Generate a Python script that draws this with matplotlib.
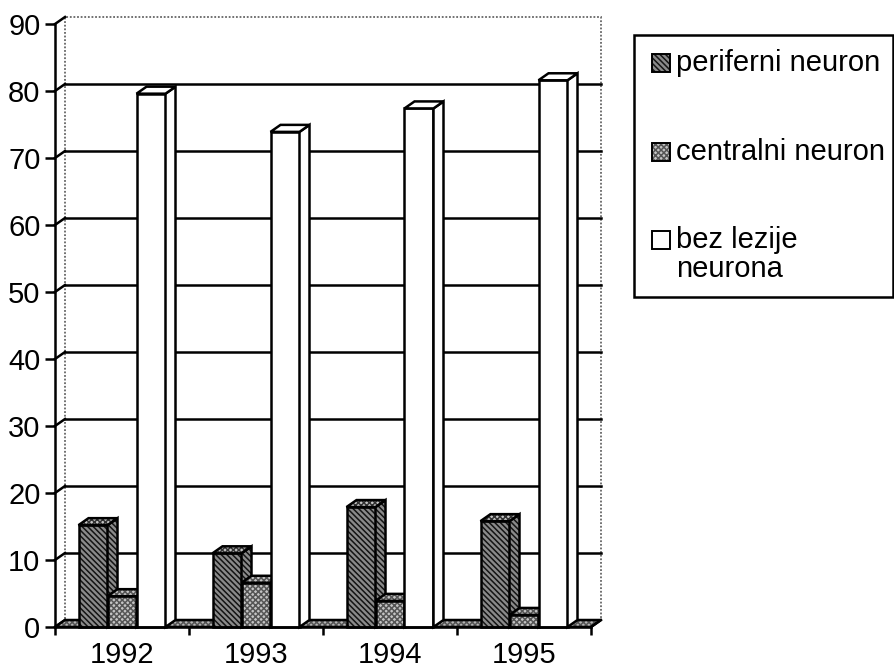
import matplotlib
matplotlib.use("Agg")
import matplotlib.pyplot as plt
from matplotlib.patches import Polygon, Rectangle

plt.rcParams['font.family'] = ['Liberation Sans', 'DejaVu Sans']
plt.rcParams['hatch.linewidth'] = 1.1

# ---- data ----
years = ['1992', '1993', '1994', '1995']
series_names = ['periferni neuron', 'centralni neuron', 'bez lezije\nneurona']
periferni = [15.2, 11.0, 17.9, 15.8]
centralni = [4.6, 6.6, 3.9, 1.8]
bez_lezije = [79.6, 73.9, 77.4, 81.6]
yticks = list(range(0, 91, 10))

W, H = 895, 670
FS = 21
fig = plt.figure(figsize=(W / 100, H / 100), dpi=100)
ax_l, ax_b, ax_w, ax_h = 55, 43, 536, 603
ax = fig.add_axes([ax_l / W, ax_b / H, ax_w / W, ax_h / H])
ax.set_xlim(-0.5, len(years) - 0.5)
ax.set_ylim(0, 90)
ax.patch.set_visible(False)

# depth offset (10 px right, 7 px up) in data units
DX = 10 / ax_w * len(years)
DY = 7 / ax_h * 90
X0, X1 = -0.5, len(years) - 0.5

LW = 1.8
PERI_FACE, PERI_HATCH = '#8a8a8a', '#141414'
CEN_FACE, CEN_HATCH = '#c4c4c4', '#555555'
PERI_H = '\\\\\\\\\\\\'
CEN_H = 'xxxxxx'


def hatched(xy, face, hatch, hcolor, z):
    ax.add_patch(Polygon(xy, closed=True, facecolor=face, edgecolor=hcolor, hatch=hatch,
                         linewidth=0, zorder=z, clip_on=False))
    ax.add_patch(Polygon(xy, closed=True, facecolor='none', edgecolor='black',
                         linewidth=LW, zorder=z + 0.01, clip_on=False,
                         joinstyle='miter'))


# back wall
ax.add_patch(Polygon([(X0 + DX, DY), (X1 + DX, DY), (X1 + DX, 90 + DY), (X0 + DX, 90 + DY)],
                     closed=True, facecolor='white', edgecolor='#666666',
                     linestyle=(0, (1, 1)), linewidth=1.3, zorder=1, clip_on=False))
for v in yticks[1:-1]:
    ax.plot([X0 + DX, X1 + DX], [v + DY, v + DY], color='black', lw=LW, zorder=2,
            clip_on=False)
for v in yticks:
    ax.plot([X0, X0 + DX], [v, v + DY], color='black', lw=LW, zorder=2, clip_on=False)

# floor
hatched([(X0, 0), (X1, 0), (X1 + DX, DY), (X0 + DX, DY)], '#b5b5b5', CEN_H, '#555555', 3)

# bars
w = 29 / ax_w * len(years)
styles = [
    dict(front=(PERI_FACE, PERI_H, PERI_HATCH), top=(CEN_FACE, CEN_H, '#333333'),
         side=(PERI_FACE, PERI_H, PERI_HATCH)),
    dict(front=(CEN_FACE, CEN_H, CEN_HATCH), top=(CEN_FACE, CEN_H, CEN_HATCH),
         side=(CEN_FACE, CEN_H, CEN_HATCH)),
    dict(front=('white', '', 'white'), top=('white', '', 'white'),
         side=('white', '', 'white')),
]
all_series = [periferni, centralni, bez_lezije]
z = 5
for i in range(len(years)):
    for s, vals in enumerate(all_series):
        v = vals[i]
        xa = i + (s - 1) * w - w / 2
        xb = xa + w
        st = styles[s]
        hatched([(xa, 0), (xb, 0), (xb, v), (xa, v)], *st['front'], z)
        hatched([(xb, 0), (xb + DX, DY), (xb + DX, v + DY), (xb, v)], *st['side'], z + 0.1)
        hatched([(xa, v), (xb, v), (xb + DX, v + DY), (xa + DX, v + DY)], *st['top'], z + 0.2)
        z += 1

# floor right edge
ax.plot([X1, X1 + DX], [0, DY], color='black', lw=LW, zorder=50, clip_on=False)

# axes styling
for sp in ['top', 'right']:
    ax.spines[sp].set_visible(False)
for sp in ['left', 'bottom']:
    ax.spines[sp].set_linewidth(LW)
    ax.spines[sp].set_zorder(60)
ax.set_yticks(yticks)
ax.tick_params(axis='y', direction='out', length=7.5, width=LW, pad=3, labelsize=FS)
ax.set_xticks(range(len(years)))
ax.set_xticklabels(years)
ax.set_xticks([k - 0.5 for k in range(len(years) + 1)], minor=True)
ax.tick_params(axis='x', which='major', length=0, pad=10, labelsize=FS)
ax.tick_params(axis='x', which='minor', direction='out', length=6, width=LW)


# legend (manual, pixel layout)
def px(x, y):
    return x / W, 1 - y / H


lx0, ly0, lx1, ly1 = 634, 35, 893, 297
fig.add_artist(Rectangle(px(lx0, ly1), (lx1 - lx0) / W, (ly1 - ly0) / H,
                         transform=fig.transFigure, facecolor='white',
                         edgecolor='black', linewidth=1.8))
legend_rows = [63, 152, 240]
sw_styles = [(PERI_FACE, PERI_H, PERI_HATCH), (CEN_FACE, CEN_H, CEN_HATCH),
             ('white', '', 'white')]
for name, yc, (fc, hh, hc) in zip(series_names, legend_rows, sw_styles):
    s = 18
    x, y = px(652, yc + s / 2)
    fig.add_artist(Rectangle((x, y), s / W, s / H, transform=fig.transFigure,
                             facecolor=fc, hatch=hh, edgecolor=hc, linewidth=0))
    fig.add_artist(Rectangle((x, y), s / W, s / H, transform=fig.transFigure,
                             facecolor='none', edgecolor='black', linewidth=1.4))
    lines = name.split('\n')
    for k, line in enumerate(lines):
        tx, ty = px(676, yc + 29 * k)
        fig.text(tx, ty, line, fontsize=FS, va='center', ha='left')

fig.savefig('out.png', dpi=100)
